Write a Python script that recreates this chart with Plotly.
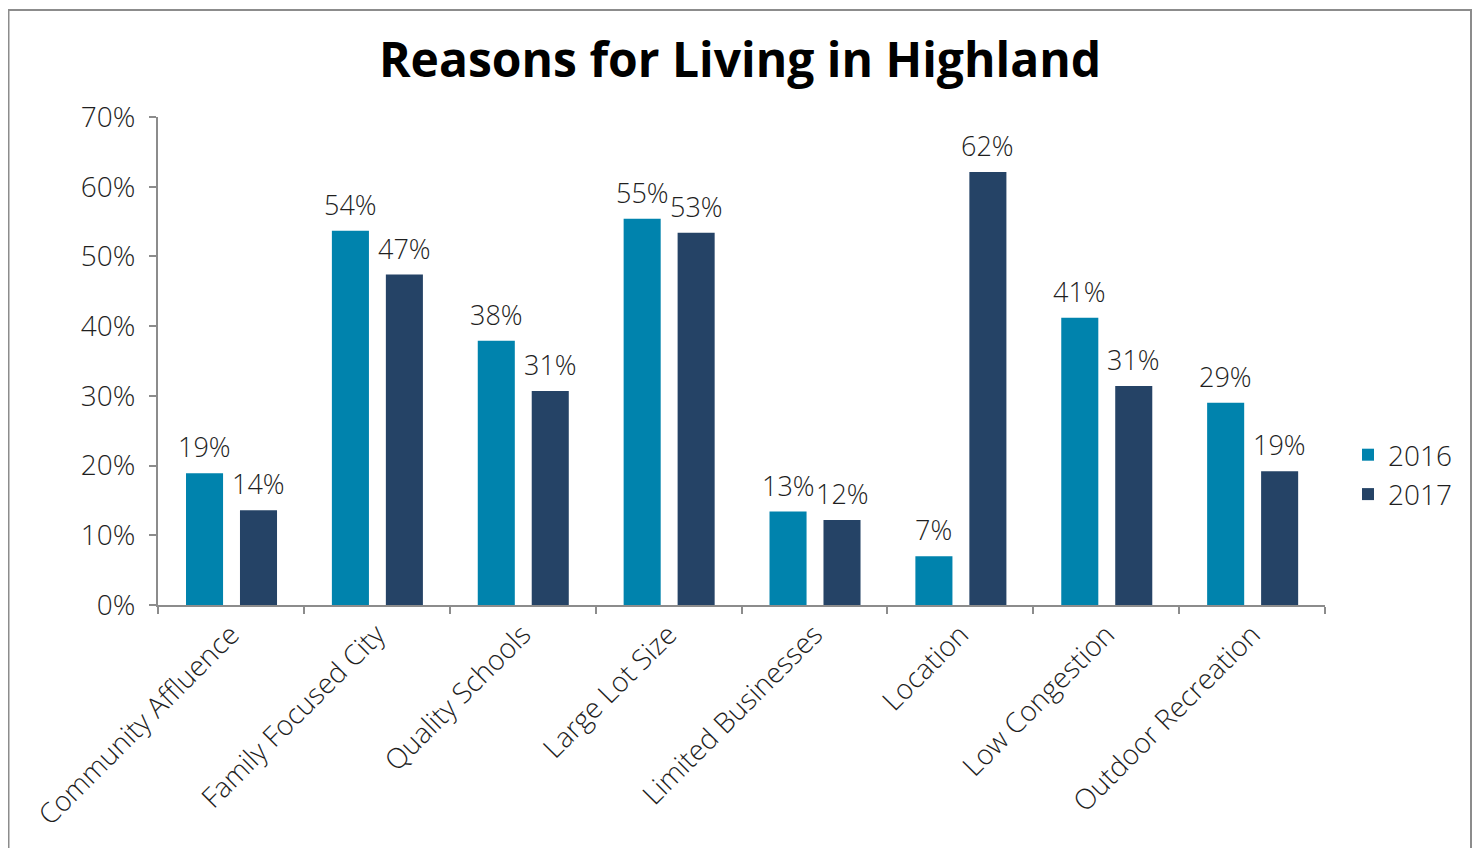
import plotly.graph_objects as go

categories = ["Community Affluence", "Family Focused City", "Quality Schools",
              "Large Lot Size", "Limited Businesses", "Location",
              "Low Congestion", "Outdoor Recreation"]
values_2016 = [0.189, 0.537, 0.379, 0.554, 0.134, 0.070, 0.412, 0.290]
values_2017 = [0.136, 0.474, 0.307, 0.534, 0.122, 0.621, 0.314, 0.192]
series_names = ["2016", "2017"]
colors = ["#0083AD", "#254366"]

# page body has an 8px margin, so figure coords = screen coords - 8
W, H = 1464, 840
L, R, T, B = 150, 1317, 109, 597

FONT = "Open Sans"
TXT = "#1F1F1F"
AX = "#8C8C8C"

BAR_W = 0.254
offsets = [-0.308, 0.062]
cat_px = (R - L) / len(categories)

fig = go.Figure()
for name, vals, col, off in zip(series_names, [values_2016, values_2017], colors, offsets):
    fig.add_trace(go.Bar(
        x=categories, y=vals, name=name,
        marker=dict(color=col, line=dict(width=0)),
        width=BAR_W, offset=off,
        cliponaxis=False,
    ))
    for c, v in zip(categories, vals):
        fig.add_annotation(
            x=c, y=v, xref="x", yref="y", text=f"{round(v * 100)}%",
            showarrow=False, xanchor="center", yanchor="bottom",
            xshift=(off + BAR_W / 2) * cat_px, yshift=6,
            font=dict(family=FONT, size=27, color=TXT, weight=300),
        )

def px_x(px):
    return (px - L) / (R - L)

def px_y(py):
    return (B - py) / (B - T)

fig.add_shape(type="rect", xref="paper", yref="paper",
              x0=px_x(0.5), x1=px_x(1463),
              y0=px_y(900), y1=px_y(2),
              line=dict(color=AX, width=2), fillcolor="rgba(0,0,0,0)", layer="below")

fig.update_layout(
    width=W, height=H,
    margin=dict(l=L, r=W - R, t=T, b=H - B, pad=0),
    paper_bgcolor="white", plot_bgcolor="white",
    barmode="group",
    title=dict(text="<b>Reasons for Living in Highland</b>", x=0.5, xanchor="center",
               y=1 - 52 / H, yanchor="middle",
               font=dict(family=FONT, size=48, color="#000000")),
    legend=dict(x=px_x(1340), xanchor="left", y=px_y(422), yanchor="top",
                font=dict(family=FONT, size=28, color=TXT, weight=300),
                itemwidth=30, tracegroupgap=0, bgcolor="rgba(0,0,0,0)"),
    showlegend=True,
    xaxis=dict(showline=True, linecolor=AX, linewidth=2, ticks="outside",
               tickson="boundaries", ticklen=7, tickcolor=AX, tickwidth=2,
               tickangle=-45, showgrid=False,
               tickfont=dict(family=FONT, size=28, color=TXT, weight=300)),
    yaxis=dict(range=[0, 0.7], dtick=0.1, tickformat=".0%", showline=True,
               linecolor=AX, linewidth=2, ticks="outside", ticklen=7,
               tickcolor=AX, tickwidth=2, showgrid=False, zeroline=False,
               ticklabelstandoff=8,
               tickfont=dict(family=FONT, size=28, color=TXT, weight=300)),
)

fig.write_html("out.html")
